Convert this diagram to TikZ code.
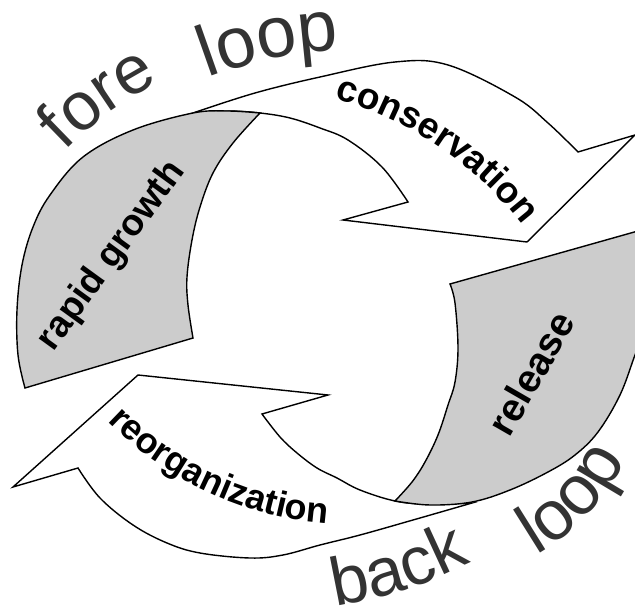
\documentclass[tikz,border=0pt]{standalone}
\usepackage{fontspec}
\setmainfont{Liberation Sans}
\usetikzlibrary{decorations.text}
\definecolor{bandgray}{HTML}{CCCCCC}
\definecolor{loopgray}{HTML}{333333}
\tikzset{
  arrowbody/.style={draw=black, fill=white, line width=1.4pt, line join=miter},
  grayband/.style={draw=black, fill=bandgray, line width=1.4pt, line join=miter},
  looptext/.style={decorate, decoration={text along path, text align=center, text color=loopgray}},
  phasetext/.style={decorate, decoration={text along path, text align=center, text color=black}},
  phasenode/.style={font=\bfseries\fontsize{37}{37}\selectfont, inner sep=0pt}
}
\begin{document}
\begin{tikzpicture}[x=1pt, y=-1pt]
\useasboundingbox (0,0) rectangle (635,615);
\clip (0,0) rectangle (635,615);

% upper white arrow (conservation)
\draw[arrowbody] plot[smooth, tension=.6] coordinates {(193,113) (255,93) (320,77) (395,62) (448,65) (515,97) (548,123) (578,152)}
  -- (635,135) -- (527,242) -- (343,220) -- (408,202)
  -- plot[smooth, tension=.6] coordinates {(408,202) (382,167) (348,140) (320,128) (290,118) (260,113) (228,111) (193,113)} -- cycle;

% lower white arrow (reorganization)
\draw[arrowbody] plot[smooth, tension=.6] coordinates {(472,503) (413,520) (360,535) (320,545) (283,555) (250,558) (200,553) (167,543) (133,525) (100,498) (78,468)}
  -- (13,487) -- (138,375) -- (328,395) -- (262,414)
  -- plot[smooth, tension=.6] coordinates {(262,414) (280,437) (297,453) (317,468) (337,478) (360,490) (395,501) (427,504) (472,503)} -- cycle;

% rapid growth band
\draw[grayband] (25,388) -- (193,338)
  -- plot[smooth, tension=.6] coordinates {(193,338) (188,305) (187,277) (192,240) (200,207) (213,173) (233,143) (260,113)}
  -- plot[smooth, tension=.6] coordinates {(260,113) (228,111) (193,113) (133,130) (83,157) (50,195) (33,227) (22,265) (17,310) (18,355) (25,388)} -- cycle;

% release band
\draw[grayband] (450,284) -- (645,229)
  -- plot[smooth, tension=.6] coordinates {(645,229) (650,280) (645,330) (635,355) (620,395) (598,432) (575,455) (548,472) (510,490) (472,502) (430,505) (395,501)}
  -- plot[smooth, tension=.6] coordinates {(395,501) (412,482) (425,462) (438,435) (448,405) (455,382) (458,348) (455,303) (450,284)} -- cycle;

% phase labels
\node[phasenode, rotate=54] (rg) at (112,256) {rapid growth};
\node[phasenode, rotate=60, font=\bfseries\fontsize{39}{39}\selectfont] (rel) at (531,373) {release};
\path[phasetext, decoration={text={|\bfseries\fontsize{37}{37}\selectfont|conservation}}]
  plot[domain=269:339, samples=60, variable=\t] ({237+361*cos(\t)}, {446+361*sin(\t)});
\path[phasetext, decoration={text={|\bfseries\fontsize{36}{36}\selectfont|reorganization}}]
  plot[domain=150:80, samples=60, variable=\t] ({356+350*cos(\t)}, {175+350*sin(\t)});

% loop labels
\path[looptext, decoration={text={|\fontsize{68}{68}\selectfont|fore}}]
  plot[domain=204:264, samples=60, variable=\t] ({315+350*cos(\t)}, {396+350*sin(\t)});
\path[looptext, decoration={text={|\fontsize{72}{72}\selectfont|loop}}]
  plot[domain=238:278, samples=60, variable=\t] ({366+450*cos(\t)}, {499+450*sin(\t)});
\path[looptext, decoration={text={|\fontsize{68}{68}\selectfont|back}}]
  plot[domain=92:52, samples=60, variable=\t] ({266+450*cos(\t)}, {162+450*sin(\t)});
\path[looptext, decoration={text={|\fontsize{70}{70}\selectfont|loop}}]
  plot[domain=83:3, samples=60, variable=\t] ({420+230*cos(\t)}, {357+230*sin(\t)});
\end{tikzpicture}
\end{document}
